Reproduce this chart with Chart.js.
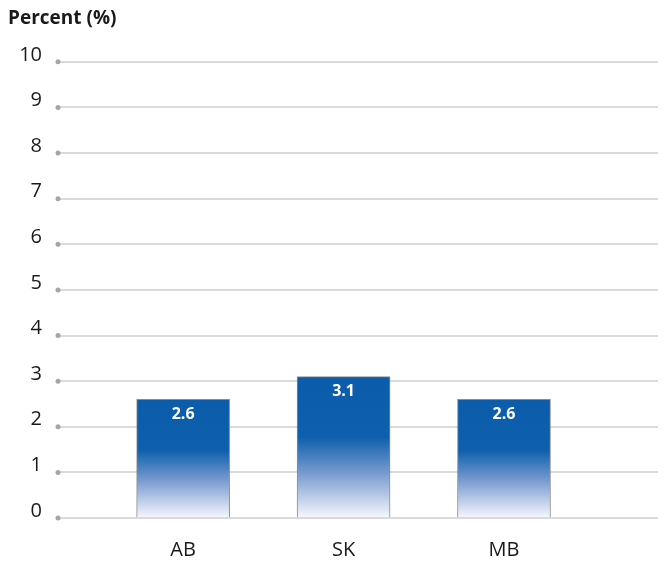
<!DOCTYPE html>
<html>
<head>
<meta charset="utf-8">
<script src="https://cdn.jsdelivr.net/npm/chart.js@4"></script>
<style>
  html, body { margin: 0; padding: 0; background: #fff; }
  #wrap { width: 665px; height: 563px; }
</style>
</head>
<body>
<div id="wrap"><canvas id="chart"></canvas></div>
<script>
var provinces = ['AB', 'SK', 'MB'];
var percents = [2.6, 3.1, 2.6];
var yTicks = [0, 1, 2, 3, 4, 5, 6, 7, 8, 9, 10];

var FONT = '"Open Sans", "Noto Sans", sans-serif';

// gradient per bar: solid blue for the top ~43%, fading to white at the base
function barFill(ctx) {
    var chart = ctx.chart;
    var y = chart.scales.y;
    if (!chart.chartArea || !y || ctx.raw == null) return '#0d5fae';
    var top = y.getPixelForValue(ctx.raw.y);
    var base = y.getPixelForValue(0);
    var g = chart.ctx.createLinearGradient(0, top, 0, base);
    g.addColorStop(0, '#0b5caa');
    g.addColorStop(0.43, '#0e60ad');
    g.addColorStop(0.7, '#7f9fd2');
    g.addColorStop(1, '#f6f8fc');
    return g;
}

// small grey dots at the left end of each gridline
var gridDots = {
    id: 'gridDots',
    beforeDatasetsDraw: function(chart) {
        var c = chart.ctx, y = chart.scales.y;
        c.save();
        c.fillStyle = '#a6a6a6';
        y.ticks.forEach(function(t) {
            c.beginPath();
            c.arc(chart.chartArea.left, y.getPixelForValue(t.value), 2.5, 0, Math.PI * 2);
            c.fill();
        });
        c.restore();
    }
};

// value labels inside the top of each bar
var barValues = {
    id: 'barValues',
    afterDatasetsDraw: function(chart) {
        var c = chart.ctx;
        var meta = chart.getDatasetMeta(0);
        c.save();
        c.fillStyle = '#ffffff';
        c.font = 'bold 16px ' + FONT;
        c.textAlign = 'center';
        c.textBaseline = 'middle';
        meta.data.forEach(function(bar, i) {
            c.fillText(percents[i].toFixed(1), bar.x, bar.y + 15);
        });
        c.restore();
    }
};

new Chart(document.getElementById('chart'), {
    type: 'bar',
    data: {
        datasets: [{
            data: percents.map(function(v, i) { return { x: i, y: v }; }),
            backgroundColor: barFill,
            borderColor: '#8c8c8c',
            borderWidth: 1,
            barThickness: 93
        }]
    },
    options: {
        responsive: true,
        maintainAspectRatio: false,
        animation: false,
        layout: { padding: { left: 8, right: 7, top: 0, bottom: 0 } },
        plugins: {
            legend: { display: false },
            tooltip: { enabled: false },
            title: {
                display: true,
                text: 'Percent (%)',
                align: 'start',
                color: '#1a1a1a',
                font: { family: FONT, size: 19, weight: 'bold' },
                padding: { top: 7, bottom: 32 }
            }
        },
        scales: {
            x: {
                type: 'linear',
                offset: false,
                min: -0.78,
                max: 2.96,
                grid: { display: false, drawTicks: false },
                border: { display: false },
                afterBuildTicks: function(s) {
                    s.ticks = provinces.map(function(p, i) { return { value: i }; });
                },
                afterFit: function(s) { s.height = 45; },
                ticks: {
                    color: '#1a1a1a',
                    font: { family: FONT, size: 20 },
                    padding: 20,
                    callback: function(v) { return provinces[v]; }
                }
            },
            y: {
                min: 0,
                max: 10,
                afterBuildTicks: function(s) {
                    s.ticks = yTicks.map(function(v) { return { value: v }; });
                },
                afterFit: function(s) { s.width = 50; },
                grid: { color: '#dadada', lineWidth: 2, drawTicks: false },
                border: { display: false },
                ticks: {
                    color: '#1a1a1a',
                    font: { family: FONT, size: 20 },
                    padding: 16,
                    labelOffset: -7
                }
            }
        }
    },
    plugins: [gridDots, barValues]
});
</script>
</body>
</html>
